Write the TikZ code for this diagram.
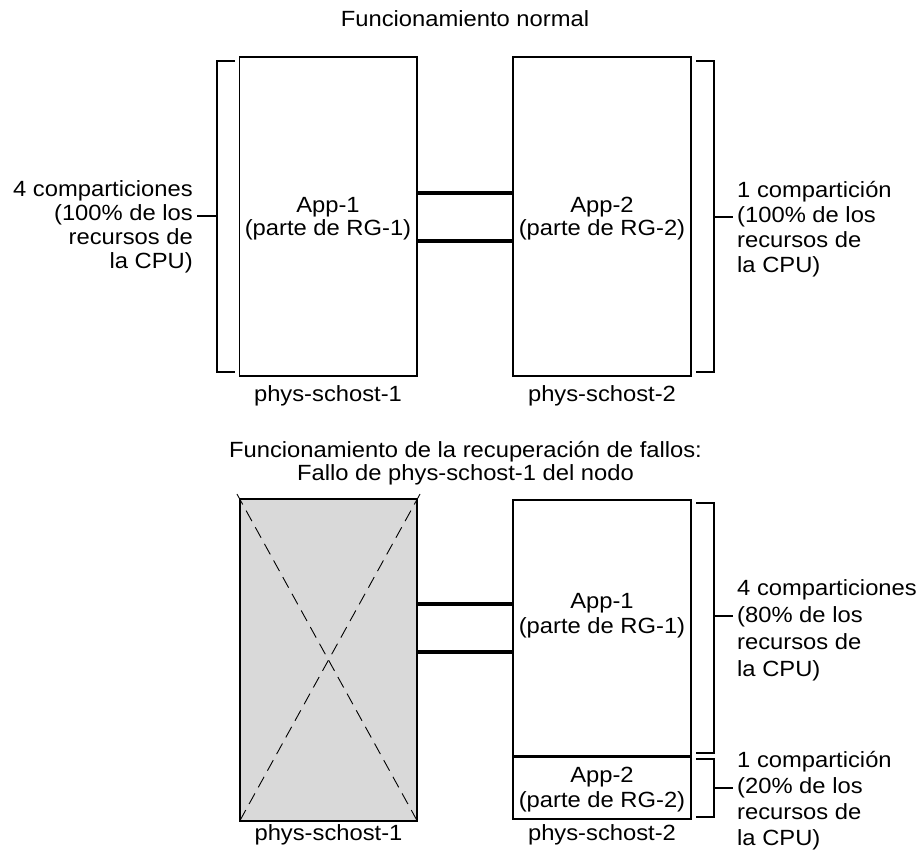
\documentclass[tikz,border=0pt]{standalone}
\usepackage{fontspec}
\setmainfont{Liberation Sans}[FakeStretch=1.08]
\begin{document}
\begin{tikzpicture}[x=1pt,y=-1pt,
  txt/.style={font=\fontsize{22}{25}\selectfont, inner sep=0pt},
  box/.style={draw, line width=1.3pt, inner sep=0pt},
  brk/.style={line width=1.2pt},
  link/.style={line width=4.5pt},
  xline/.style={line width=0.9pt, dash pattern=on 12pt off 7pt, shorten <=-5pt, shorten >=-5pt}]
\useasboundingbox (0,0) rectangle (923,852);

% ---------- normal operation ----------
\node[txt, anchor=base] (t1) at (465,26) {Funcionamiento normal};

\node[box, minimum width=177.5pt, minimum height=319pt] (a1) at (328.25,216.5) {};
\node[box, minimum width=178pt, minimum height=319pt] (a2) at (602,216.5) {};

% multi-line nodes are placed by the baseline of their last line
\node[txt, align=center, anchor=base, font=\fontsize{22}{23.5}\selectfont] (a1t) at (328,235.5) {App-1\\(parte de RG-1)};
\node[txt, align=center, anchor=base, font=\fontsize{22}{23.5}\selectfont] (a2t) at (602,235.5) {App-2\\(parte de RG-2)};

\draw[link] ([yshift=23.5pt]a1.east) -- ([yshift=23.5pt]a1.east -| a2.west);
\draw[link] ([yshift=-24.5pt]a1.east) -- ([yshift=-24.5pt]a1.east -| a2.west);

\node[txt, anchor=base] (p1) at (328,401) {phys-schost-1};
\node[txt, anchor=base] (p2) at (602,401) {phys-schost-2};

% left bracket
\coordinate (lbm) at (217,216);
\draw[brk] (235,61) -- (217,61) -- (217,372) -- (235,372);
\node[txt, align=right, anchor=base east, inner xsep=4pt, font=\fontsize{22}{24}\selectfont] (l1) at (197,268.7)
  {4 comparticiones\\(100\% de los\\recursos de\hspace*{0.278em}\\la CPU)};
\draw[brk] (lbm) -- (lbm -| l1.east);

% right bracket
\coordinate (rbm) at (714,217);
\draw[brk] (696,61) -- (714,61) -- (714,372) -- (696,372);
\node[txt, align=left, anchor=base west, inner xsep=4pt, font=\fontsize{22}{25.3}\selectfont] (r1) at (733,272.9)
  {1 compartición\\(100\% de los\\recursos de\\la CPU)};
\draw[brk] (rbm) -- (rbm -| r1.west);

% ---------- failover ----------
\node[txt, align=center, anchor=base, font=\fontsize{22}{23.3}\selectfont] (t2) at (465.5,480.3)
  {Funcionamiento de la recuperación de fallos:\\Fallo de phys-schost-1 del nodo};

\node[box, fill={rgb,255:red,217;green,217;blue,217}, minimum width=177pt, minimum height=322pt] (g1) at (328.5,660) {};
\draw[xline] (g1.north west) -- (g1.south east);
\draw[xline] (g1.north east) -- (g1.south west);

\node[box, minimum width=178pt, minimum height=256pt] (b1) at (602,628) {};
\node[box, minimum width=178pt, minimum height=63pt] (b2) at (602,787.5) {};
\draw[line width=2pt] (b1.south west) -- (b1.south east);

\node[txt, align=center, anchor=base] (b1t) at (602,633) {App-1\\(parte de RG-1)};
\node[txt, align=center, anchor=base] (b2t) at (602,807) {App-2\\(parte de RG-2)};

\draw[link] ([yshift=56pt]g1.east) -- ([yshift=56pt]g1.east -| b1.west);
\draw[link] ([yshift=8pt]g1.east) -- ([yshift=8pt]g1.east -| b1.west);

\node[txt, anchor=base] (p3) at (328.5,840) {phys-schost-1};
\node[txt, anchor=base] (p4) at (602,840) {phys-schost-2};

% bracket for App-1 share
\coordinate (rb2m) at (714,616);
\draw[brk] (696,503) -- (714,503) -- (714,753) -- (696,753);
\node[txt, align=left, anchor=base west, inner xsep=4pt, font=\fontsize{22}{27}\selectfont] (r2) at (733,676)
  {4 comparticiones\\(80\% de los\\recursos de\\la CPU)};
\draw[brk] (rb2m) -- (rb2m -| r2.west);

% bracket for App-2 share
\coordinate (rb3m) at (714,788);
\draw[brk] (696,759) -- (714,759) -- (714,817) -- (696,817);
\node[txt, align=left, anchor=base west, inner xsep=4pt, font=\fontsize{22}{26}\selectfont] (r3) at (733,845)
  {1 compartición\\(20\% de los\\recursos de\\la CPU)};
\draw[brk] (rb3m) -- (rb3m -| r3.west);
\end{tikzpicture}
\end{document}
